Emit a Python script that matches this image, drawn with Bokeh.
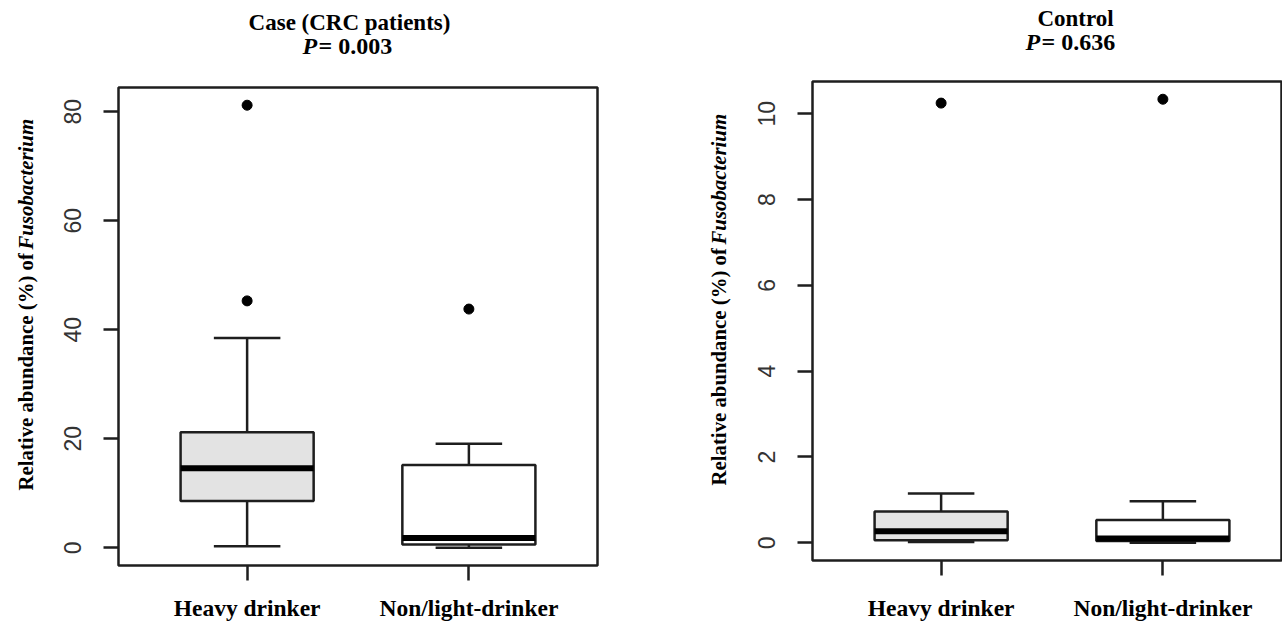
import math
from bokeh.plotting import figure
from bokeh.models import ColumnDataSource, Label, Range1d, FixedTicker
from bokeh.layouts import row, column
from bokeh.embed import file_html
from bokeh.resources import INLINE

# ---------------- data ----------------
groups = ["Heavy drinker", "Non/light-drinker"]
box_fills = ["#e3e3e3", "#ffffff"]

case_title = "Case (CRC patients)"
case_p = "0.003"
case_lower = [0.3, 0.0]
case_q1 = [8.6, 0.6]
case_median = [14.6, 1.8]
case_q3 = [21.2, 15.2]
case_upper = [38.5, 19.1]
case_outlier_group = [1, 1, 2]
case_outlier_value = [81.2, 45.3, 43.8]
case_yticks = [0, 20, 40, 60, 80]

ctrl_title = "Control"
ctrl_p = "0.636"
ctrl_lower = [0.02, 0.0]
ctrl_q1 = [0.06, 0.04]
ctrl_median = [0.27, 0.10]
ctrl_q3 = [0.73, 0.53]
ctrl_upper = [1.15, 0.97]
ctrl_outlier_group = [1, 2]
ctrl_outlier_value = [10.25, 10.34]
ctrl_yticks = [0, 2, 4, 6, 8, 10]

ylabel_main = "Relative abundance (%) of"
ylabel_genus = "Fusobacterium"

SERIF = "Liberation Serif"
SANS = "Liberation Sans"
INK = "#1e1e1e"
TOP = 70        # height of title strip
BOT = 32        # height of category-label strip
MAIN_H = 622 - TOP - BOT
BASE_FIX = 9    # baseline correction for horizontal labels
YT_SIZE = "20.8px"


def lab(text, x, y, style="bold", size="23px", align="left", baseline="alphabetic", angle=0.0):
    return Label(x=x, y=y, text=text, angle=angle,
                 text_font=SERIF, text_font_style=style, text_font_size=size,
                 text_align=align, text_baseline=baseline, text_color="black")


def strip(width, height, x_range, y_range, bl=0, br=0, bt=0, bb=0):
    s = figure(width=width, height=height, x_range=x_range, y_range=y_range,
               output_backend="svg", toolbar_location=None, title=None,
               min_border_left=bl, min_border_right=br, min_border_top=bt, min_border_bottom=bb,
               x_axis_location=None, y_axis_location=None)
    s.grid.visible = False
    s.outline_line_color = None
    s.background_fill_color = "white"
    s.border_fill_color = "white"
    return s


def main_fig(width, bl, br, bt, bb, xr, lower, q1, med, q3, upper, og, ov, yticks):
    xs = list(range(1, len(groups) + 1))
    allv = lower + q1 + med + q3 + upper + ov
    lo, hi = min(allv), max(allv)
    pad = 0.04 * (hi - lo)
    p = figure(width=width, height=MAIN_H, x_range=xr, title=None,
               y_range=Range1d(lo - pad, hi + pad), output_backend="svg",
               toolbar_location=None, min_border_left=bl, min_border_right=br,
               min_border_top=bt, min_border_bottom=bb)
    p.grid.visible = False
    p.outline_line_color = INK
    p.outline_line_width = 2.5
    p.outline_line_alpha = 1
    p.background_fill_color = "white"
    p.border_fill_color = "white"

    ya = p.yaxis[0]
    ya.ticker = FixedTicker(ticks=yticks)
    ya.axis_line_color = None
    ya.major_tick_out = 15
    ya.major_tick_in = 0
    ya.minor_tick_line_color = None
    ya.major_tick_line_width = 2.5
    ya.major_tick_line_color = INK
    ya.major_label_orientation = "parallel"
    ya.major_label_text_font = SANS
    ya.major_label_text_font_size = "23px"
    ya.major_label_text_color = "#333333"
    ya.major_label_standoff = 22

    xa = p.xaxis[0]
    xa.ticker = FixedTicker(ticks=xs)
    xa.axis_line_color = None
    xa.major_tick_out = 15
    xa.major_tick_in = 0
    xa.minor_tick_line_color = None
    xa.major_tick_line_width = 2.5
    xa.major_tick_line_color = INK
    xa.major_label_overrides = {x: "" for x in xs}
    xa.major_label_text_font_size = "1px"

    src = ColumnDataSource(dict(
        x=xs, left=[x - 0.3 for x in xs], right=[x + 0.3 for x in xs],
        cl=[x - 0.15 for x in xs], cr=[x + 0.15 for x in xs],
        lower=lower, q1=q1, med=med, q3=q3, upper=upper, fill=box_fills))
    p.segment(x0="x", y0="q3", x1="x", y1="upper", source=src, line_color=INK, line_width=2.5)
    p.segment(x0="x", y0="q1", x1="x", y1="lower", source=src, line_color=INK, line_width=2.5)
    p.segment(x0="cl", y0="upper", x1="cr", y1="upper", source=src, line_color=INK, line_width=2.5)
    p.segment(x0="cl", y0="lower", x1="cr", y1="lower", source=src, line_color=INK, line_width=2.5)
    p.quad(left="left", right="right", bottom="q1", top="q3", source=src,
           fill_color="fill", line_color=INK, line_width=2.5)
    p.segment(x0="left", y0="med", x1="right", y1="med", source=src, line_color="black", line_width=6)
    p.scatter(x=og, y=ov, size=10, color="black")
    return p


def panel(x0, width, ylab_w, frame_left, frame_right, frame_top, frame_bottom, x_end,
          lower, q1, med, q3, upper, og, ov, yticks,
          title, pval, title_cx, title_base, p_left, p_base, ylab_cx, ylab_start, genus_start):
    xs = list(range(1, len(groups) + 1))
    xr = Range1d(0.42, x_end)
    fl = frame_left - x0
    fr = (x0 + width) - frame_right
    # title strip: frame aligned with main frame horizontally, data units = page pixels
    t = strip(width, TOP, Range1d(frame_left, frame_right), Range1d(TOP, 0), bl=fl, br=fr)
    t.add_layout(lab(title, title_cx, title_base - BASE_FIX, align="center"))
    t.add_layout(lab("P", p_left, p_base - BASE_FIX, style="bold italic", size="24px"))
    t.add_layout(lab("= " + pval, p_left + 16, p_base - BASE_FIX, size="24px"))
    # y-axis title strip: frame aligned with main frame vertically
    bt = frame_top - TOP
    bb = (TOP + MAIN_H) - frame_bottom
    yl = strip(ylab_w, MAIN_H, Range1d(x0, x0 + ylab_w), Range1d(frame_bottom, frame_top),
               bt=bt, bb=bb)
    yl.add_layout(lab(ylabel_main, ylab_cx, ylab_start, size=YT_SIZE, baseline="middle",
                      angle=math.pi / 2))
    yl.add_layout(lab(ylabel_genus, ylab_cx, genus_start, style="bold italic", size=YT_SIZE,
                      baseline="middle", angle=math.pi / 2))
    # main plot
    mw = width - ylab_w
    bl = frame_left - (x0 + ylab_w)
    m = main_fig(mw, bl, fr, bt, bb, xr, lower, q1, med, q3, upper, og, ov, yticks)
    # category label strip
    b = strip(width, BOT, xr, Range1d(622, 622 - BOT), bl=fl, br=fr)
    for x, g in zip(xs, groups):
        b.add_layout(lab(g, x, 614 - 7, align="center", size="23.5px"))
    return column(t, row(yl, m, spacing=0), b, spacing=0)


left = panel(0, 640, 45, 118, 597, 87, 565, 2.58,
             case_lower, case_q1, case_median, case_q3, case_upper,
             case_outlier_group, case_outlier_value, case_yticks,
             case_title, case_p, 349, 31, 302, 54, 25, 490, 249)
right = panel(640, 642, 100, 812, 1282, 81, 560, 0.42 + 470 / 221.76,
              ctrl_lower, ctrl_q1, ctrl_median, ctrl_q3, ctrl_upper,
              ctrl_outlier_group, ctrl_outlier_value, ctrl_yticks,
              ctrl_title, ctrl_p, 1075, 27, 1025, 50, 718, 485, 244)

layout = row(left, right, spacing=0)
open("out.html", "w").write(file_html(layout, INLINE))
